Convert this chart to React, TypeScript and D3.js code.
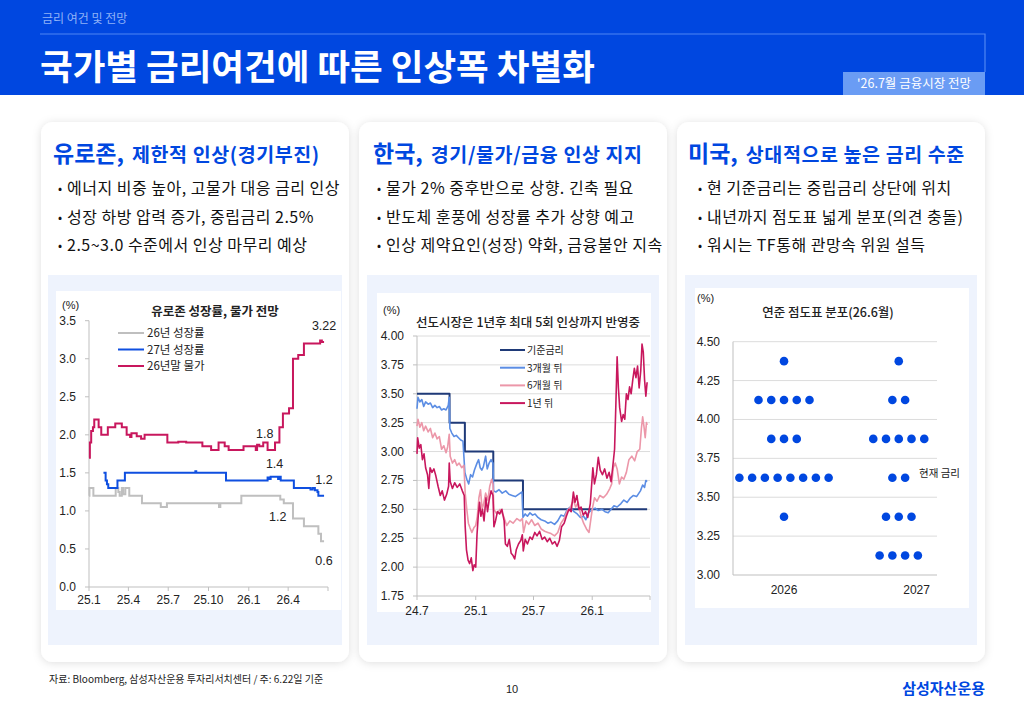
import React from "react";
import * as d3 from "d3";

const KR = "'Noto Sans CJK KR', 'Noto Sans', sans-serif";
const NUM = "'Liberation Sans', Arial, sans-serif";
const BLUE = "#0047E0";

// ---- slide texts ----
const sectionLabel = "금리 여건 및 전망";
const pageTitle = "국가별 금리여건에 따른 인상폭 차별화";
const reportTag = "'26.7월 금융시장 전망";
const cardHeads = ["유로존,", "한국,", "미국,"];
const cardSubs = [" 제한적 인상(경기부진)", " 경기/물가/금융 인상 지지", " 상대적으로 높은 금리 수준"];
const cardBullets = [
  ["에너지 비중 높아, 고물가 대응 금리 인상", "성장 하방 압력 증가, 중립금리 2.5%", "2.5~3.0 수준에서 인상 마무리 예상"],
  ["물가 2% 중후반으로 상향. 긴축 필요", "반도체 훈풍에 성장률 추가 상향 예고", "인상 제약요인(성장) 약화, 금융불안 지속"],
  ["현 기준금리는 중립금리 상단에 위치", "내년까지 점도표 넓게 분포(의견 충돌)", "워시는 TF통해 관망속 위원 설득"],
];
const sourceNote = "자료: Bloomberg, 삼성자산운용 투자리서치센터 / 주: 6.22일 기준";
const pageNo = "10";
const brand = "삼성자산운용";

// ---- chart 1: euro area growth / inflation forecasts ----
const ezTitle = "유로존 성장률, 물가 전망";
const ezTickDates = ["2025-01-01", "2025-04-01", "2025-07-01", "2025-10-01", "2026-01-01", "2026-04-01", "2026-07-01"];
const ezTickLabels = ["25.1", "25.4", "25.7", "25.10", "26.1", "26.4", ""];
const ezYTicks = [0, 0.5, 1, 1.5, 2, 2.5, 3, 3.5];
const ezNames = ["26년 성장률", "27년 성장률", "26년말 물가"];
const ezGrowth26: [string, number][] = [
  ["2025-01-01", 1.2], ["2025-01-02", 1.3], ["2025-01-11", 1.2], ["2025-03-03", 1.3], ["2025-03-09", 1.25],
  ["2025-03-12", 1.2], ["2025-03-17", 1.3], ["2025-03-20", 1.22], ["2025-03-25", 1.3], ["2025-04-03", 1.2],
  ["2025-05-02", 1.1], ["2025-06-14", 1.05], ["2025-06-28", 1.1], ["2025-10-25", 1.05], ["2025-10-28", 1.1],
  ["2025-12-15", 1.2], ["2026-03-14", 1.15], ["2026-03-22", 1.1], ["2026-04-12", 0.9], ["2026-05-07", 0.8],
  ["2026-06-09", 0.7], ["2026-06-15", 0.6], ["2026-06-22", 0.6],
];
const ezGrowth27: [string, number][] = [
  ["2025-02-03", 1.5], ["2025-02-08", 1.4], ["2025-02-11", 1.35], ["2025-02-14", 1.3], ["2025-03-07", 1.4],
  ["2025-03-24", 1.5], ["2025-09-01", 1.52], ["2025-09-03", 1.5], ["2025-11-10", 1.4], ["2026-02-13", 1.44],
  ["2026-02-16", 1.42], ["2026-02-20", 1.45], ["2026-03-09", 1.42], ["2026-03-12", 1.45], ["2026-03-15", 1.4],
  ["2026-04-14", 1.3], ["2026-05-22", 1.28], ["2026-05-27", 1.3], ["2026-06-01", 1.27], ["2026-06-07", 1.25],
  ["2026-06-09", 1.2], ["2026-06-22", 1.2],
];
const ezCpi26: [string, number][] = [
  ["2025-01-01", 1.7], ["2025-01-03", 1.9], ["2025-01-06", 2.05], ["2025-01-10", 2.1], ["2025-01-13", 2.2],
  ["2025-01-23", 2.1], ["2025-01-29", 2.0], ["2025-02-13", 2.1], ["2025-03-02", 2.15], ["2025-03-17", 2.1],
  ["2025-03-28", 2.0], ["2025-04-05", 1.97], ["2025-04-08", 2.02], ["2025-04-20", 1.98], ["2025-04-30", 1.95],
  ["2025-05-08", 2.0], ["2025-06-29", 1.9], ["2025-07-24", 1.91], ["2025-08-11", 1.9], ["2025-09-17", 1.85],
  ["2025-10-07", 1.8], ["2025-10-24", 1.9], ["2025-11-07", 1.85], ["2025-11-16", 1.8], ["2025-12-20", 1.85],
  ["2026-01-17", 1.8], ["2026-01-20", 1.87], ["2026-01-25", 1.85], ["2026-02-03", 1.9], ["2026-02-13", 1.8],
  ["2026-03-02", 1.9], ["2026-03-12", 2.1], ["2026-03-20", 2.28], ["2026-04-03", 2.35], ["2026-04-12", 3.0],
  ["2026-04-24", 3.05], ["2026-05-07", 3.2], ["2026-06-13", 3.24], ["2026-06-17", 3.22], ["2026-06-22", 3.22],
];

// ---- chart 2: Korea policy rate and market-implied path ----
const krTitle = "선도시장은 1년후 최대 5회 인상까지 반영중";
const krTickDates = ["2024-07-01", "2025-01-01", "2025-07-01", "2026-01-01", "2026-07-01"];
const krTickLabels = ["24.7", "25.1", "25.7", "26.1", ""];
const krYTicks = [1.75, 2, 2.25, 2.5, 2.75, 3, 3.25, 3.5, 3.75, 4];
const krNames = ["기준금리", "3개월 뒤", "6개월 뒤", "1년 뒤"];
const krBase: [string, number][] = [
  ["2024-07-01", 3.5], ["2024-10-11", 3.25], ["2024-11-28", 3.0], ["2025-02-25", 2.75], ["2025-05-29", 2.5], ["2026-06-22", 2.5],
];
const kr3m: [string, number][] = [
  ["2024-07-01", 3.37], ["2024-07-04", 3.47], ["2024-07-10", 3.43], ["2024-07-16", 3.45], ["2024-07-22", 3.39],
  ["2024-07-28", 3.43], ["2024-08-05", 3.41], ["2024-08-12", 3.42], ["2024-08-19", 3.38], ["2024-08-26", 3.4],
  ["2024-09-02", 3.38], ["2024-09-09", 3.39], ["2024-09-16", 3.36], ["2024-09-23", 3.37], ["2024-09-30", 3.36],
  ["2024-10-07", 3.4], ["2024-10-10", 3.47], ["2024-10-12", 3.2], ["2024-10-18", 3.16], ["2024-10-25", 3.13],
  ["2024-11-01", 3.14], ["2024-11-08", 3.12], ["2024-11-15", 3.1], ["2024-11-22", 3.09], ["2024-11-28", 2.82],
  ["2024-12-04", 2.76], ["2024-12-10", 2.72], ["2024-12-16", 2.8], ["2024-12-22", 2.78], ["2024-12-28", 2.84],
  ["2025-01-05", 2.9], ["2025-01-10", 2.93], ["2025-01-15", 2.86], ["2025-01-20", 2.84], ["2025-01-25", 2.87],
  ["2025-02-01", 2.96], ["2025-02-06", 2.85], ["2025-02-12", 2.9], ["2025-02-18", 2.93], ["2025-02-24", 2.9],
  ["2025-02-26", 2.66], ["2025-03-05", 2.65], ["2025-03-15", 2.67], ["2025-03-25", 2.64], ["2025-04-05", 2.66],
  ["2025-04-15", 2.63], ["2025-04-25", 2.62], ["2025-05-05", 2.61], ["2025-05-15", 2.63], ["2025-05-26", 2.65],
  ["2025-05-29", 2.43], ["2025-06-05", 2.46], ["2025-06-12", 2.44], ["2025-06-20", 2.47], ["2025-06-28", 2.45],
  ["2025-07-06", 2.46], ["2025-07-15", 2.43], ["2025-07-25", 2.41], ["2025-08-05", 2.4], ["2025-08-15", 2.38],
  ["2025-08-25", 2.39], ["2025-09-05", 2.37], ["2025-09-15", 2.4], ["2025-09-25", 2.45], ["2025-10-05", 2.44],
  ["2025-10-15", 2.5], ["2025-10-25", 2.52], ["2025-11-05", 2.48], ["2025-11-15", 2.46], ["2025-11-25", 2.43],
  ["2025-12-05", 2.44], ["2025-12-12", 2.41], ["2025-12-20", 2.47], ["2026-01-01", 2.5], ["2026-01-10", 2.51],
  ["2026-01-20", 2.49], ["2026-02-01", 2.5], ["2026-02-10", 2.48], ["2026-02-20", 2.47], ["2026-03-01", 2.5],
  ["2026-03-10", 2.53], ["2026-03-20", 2.52], ["2026-04-01", 2.55], ["2026-04-10", 2.58], ["2026-04-20", 2.56],
  ["2026-05-01", 2.6], ["2026-05-10", 2.62], ["2026-05-20", 2.61], ["2026-06-01", 2.66], ["2026-06-08", 2.71],
  ["2026-06-14", 2.69], ["2026-06-18", 2.75], ["2026-06-22", 2.74],
];
const kr6m: [string, number][] = [
  ["2024-07-01", 3.22], ["2024-07-04", 3.28], ["2024-07-10", 3.21], ["2024-07-16", 3.25], ["2024-07-22", 3.18],
  ["2024-07-28", 3.22], ["2024-08-05", 3.17], ["2024-08-12", 3.2], ["2024-08-19", 3.12], ["2024-08-26", 3.16],
  ["2024-09-02", 3.11], ["2024-09-09", 3.13], ["2024-09-16", 3.02], ["2024-09-23", 3.05], ["2024-09-30", 2.99],
  ["2024-10-05", 3.04], ["2024-10-10", 3.15], ["2024-10-13", 2.96], ["2024-10-20", 2.9], ["2024-10-27", 2.93],
  ["2024-11-03", 2.88], ["2024-11-10", 2.9], ["2024-11-18", 2.86], ["2024-11-25", 2.88], ["2024-11-29", 2.64],
  ["2024-12-04", 2.5], ["2024-12-09", 2.38], ["2024-12-14", 2.34], ["2024-12-20", 2.3], ["2024-12-26", 2.34],
  ["2025-01-01", 2.36], ["2025-01-06", 2.44], ["2025-01-11", 2.6], ["2025-01-16", 2.67], ["2025-01-21", 2.5],
  ["2025-01-26", 2.55], ["2025-02-01", 2.64], ["2025-02-08", 2.58], ["2025-02-14", 2.7], ["2025-02-20", 2.76],
  ["2025-02-24", 2.72], ["2025-02-27", 2.5], ["2025-03-08", 2.46], ["2025-03-18", 2.5], ["2025-03-28", 2.45],
  ["2025-04-08", 2.36], ["2025-04-18", 2.4], ["2025-04-28", 2.38], ["2025-05-10", 2.42], ["2025-05-20", 2.4],
  ["2025-05-27", 2.42], ["2025-05-31", 2.3], ["2025-06-08", 2.4], ["2025-06-16", 2.37], ["2025-06-25", 2.41],
  ["2025-07-05", 2.36], ["2025-07-15", 2.38], ["2025-07-25", 2.33], ["2025-08-05", 2.31], ["2025-08-15", 2.3],
  ["2025-08-25", 2.29], ["2025-09-05", 2.27], ["2025-09-15", 2.3], ["2025-09-25", 2.38], ["2025-10-05", 2.42],
  ["2025-10-15", 2.49], ["2025-10-25", 2.52], ["2025-11-03", 2.58], ["2025-11-10", 2.52], ["2025-11-18", 2.56],
  ["2025-11-26", 2.45], ["2025-12-05", 2.38], ["2025-12-14", 2.33], ["2025-12-22", 2.3], ["2026-01-01", 2.5],
  ["2026-01-08", 2.6], ["2026-01-16", 2.57], ["2026-01-25", 2.62], ["2026-02-05", 2.6], ["2026-02-15", 2.63],
  ["2026-02-25", 2.68], ["2026-03-03", 2.72], ["2026-03-08", 2.86], ["2026-03-14", 2.9], ["2026-03-20", 2.85],
  ["2026-03-27", 2.72], ["2026-04-03", 2.78], ["2026-04-10", 2.76], ["2026-04-18", 2.82], ["2026-04-26", 2.93],
  ["2026-05-05", 2.96], ["2026-05-14", 2.92], ["2026-05-22", 3.0], ["2026-05-30", 3.02], ["2026-06-04", 3.2],
  ["2026-06-08", 3.3], ["2026-06-12", 3.22], ["2026-06-16", 3.12], ["2026-06-20", 3.25], ["2026-06-22", 3.23],
];
const kr1y: [string, number][] = [
  ["2024-07-01", 2.98], ["2024-07-03", 3.12], ["2024-07-08", 3.03], ["2024-07-13", 3.06], ["2024-07-18", 2.93],
  ["2024-07-23", 2.98], ["2024-07-28", 2.86], ["2024-08-03", 2.8], ["2024-08-07", 2.68], ["2024-08-11", 2.86],
  ["2024-08-17", 2.82], ["2024-08-23", 2.85], ["2024-08-29", 2.79], ["2024-09-05", 2.7], ["2024-09-12", 2.62],
  ["2024-09-18", 2.66], ["2024-09-25", 2.58], ["2024-10-02", 2.63], ["2024-10-08", 2.7], ["2024-10-10", 2.9],
  ["2024-10-13", 2.74], ["2024-10-20", 2.68], ["2024-10-27", 2.73], ["2024-11-04", 2.69], ["2024-11-12", 2.72],
  ["2024-11-20", 2.66], ["2024-11-26", 2.62], ["2024-11-29", 2.35], ["2024-12-03", 2.15], ["2024-12-08", 2.06],
  ["2024-12-13", 2.03], ["2024-12-18", 2.08], ["2024-12-23", 1.97], ["2024-12-27", 2.02], ["2025-01-01", 2.0],
  ["2025-01-05", 2.28], ["2025-01-09", 2.45], ["2025-01-13", 2.56], ["2025-01-17", 2.44], ["2025-01-22", 2.5],
  ["2025-01-27", 2.4], ["2025-02-02", 2.6], ["2025-02-07", 2.48], ["2025-02-12", 2.58], ["2025-02-18", 2.66],
  ["2025-02-24", 2.62], ["2025-02-27", 2.35], ["2025-03-04", 2.4], ["2025-03-10", 2.48], ["2025-03-17", 2.46],
  ["2025-03-24", 2.5], ["2025-03-31", 2.4], ["2025-04-04", 2.2], ["2025-04-10", 2.18], ["2025-04-16", 2.24],
  ["2025-04-22", 2.12], ["2025-04-28", 2.1], ["2025-05-03", 2.07], ["2025-05-08", 2.15], ["2025-05-15", 2.2],
  ["2025-05-22", 2.23], ["2025-05-27", 2.28], ["2025-05-30", 2.14], ["2025-06-05", 2.24], ["2025-06-12", 2.2],
  ["2025-06-20", 2.26], ["2025-06-27", 2.24], ["2025-07-05", 2.3], ["2025-07-12", 2.27], ["2025-07-20", 2.31],
  ["2025-07-28", 2.24], ["2025-08-05", 2.26], ["2025-08-13", 2.22], ["2025-08-21", 2.25], ["2025-08-29", 2.2],
  ["2025-09-06", 2.22], ["2025-09-13", 2.18], ["2025-09-20", 2.23], ["2025-09-27", 2.35], ["2025-10-05", 2.38],
  ["2025-10-12", 2.44], ["2025-10-20", 2.5], ["2025-10-27", 2.48], ["2025-11-03", 2.65], ["2025-11-08", 2.56],
  ["2025-11-14", 2.62], ["2025-11-20", 2.5], ["2025-11-27", 2.52], ["2025-12-04", 2.45], ["2025-12-11", 2.48],
  ["2025-12-18", 2.43], ["2025-12-26", 2.55], ["2026-01-03", 2.86], ["2026-01-08", 2.72], ["2026-01-14", 2.8],
  ["2026-01-20", 2.95], ["2026-01-26", 2.84], ["2026-02-02", 2.8], ["2026-02-09", 2.85], ["2026-02-16", 2.77],
  ["2026-02-23", 2.82], ["2026-03-01", 2.74], ["2026-03-06", 2.86], ["2026-03-12", 3.02], ["2026-03-16", 3.4],
  ["2026-03-20", 3.82], ["2026-03-24", 3.55], ["2026-03-28", 3.38], ["2026-04-03", 3.26], ["2026-04-08", 3.32],
  ["2026-04-13", 3.28], ["2026-04-18", 3.5], ["2026-04-23", 3.45], ["2026-04-28", 3.56], ["2026-05-03", 3.5],
  ["2026-05-08", 3.62], ["2026-05-13", 3.72], ["2026-05-18", 3.64], ["2026-05-23", 3.74], ["2026-05-28", 3.55],
  ["2026-06-02", 3.7], ["2026-06-06", 3.93], ["2026-06-10", 3.86], ["2026-06-14", 3.62], ["2026-06-18", 3.48],
  ["2026-06-22", 3.6],
];

// ---- chart 3: FOMC dot plot ----
const dotTitle = "연준 점도표 분포(26.6월)";
const dotYears = ["2026", "2027"];
const dotLevels = [4.375, 4.125, 3.875, 3.625, 3.375, 3.125];
const dots2026 = [1, 5, 3, 8, 1, 0];
const dots2027 = [1, 2, 5, 2, 3, 4];
const dotYTicks = [3, 3.25, 3.5, 3.75, 4, 4.25, 4.5];
const currentRateLabel = "현재 금리";
const currentRate = 3.625;

const parse = d3.timeParse("%Y-%m-%d");
const dt = (s: string) => parse(s) as Date;

function EuroChart() {
  const x = d3.scaleTime().domain([dt("2025-01-01"), dt("2026-07-01")]).range([89, 328]);
  const y = d3.scaleLinear().domain([0, 3.5]).range([587, 320.7]);
  const line = d3.line<[string, number]>().x((d) => x(dt(d[0]))).y((d) => y(d[1])).curve(d3.curveStepAfter);
  const series = [
    { d: ezGrowth26, c: "#BFBFBF" },
    { d: ezGrowth27, c: "#0F4FE0" },
    { d: ezCpi26, c: "#C8175D" },
  ];
  const ax = "#BFBFBF";
  const last = (s: [string, number][]) => s[s.length - 1];
  const ann = [
    { t: "3.22", dx: 0, dy: -12, p: last(ezCpi26) },
    { t: "1.8", dx: -6, dy: -12, p: ["2026-02-20", 1.8] as [string, number] },
    { t: "1.4", dx: 0, dy: -9, p: ["2026-03-01", 1.45] as [string, number] },
    { t: "1.2", dx: 0, dy: -12, p: last(ezGrowth27) },
    { t: "1.2", dx: 0, dy: 18, p: ["2026-03-08", 1.1] as [string, number] },
    { t: "0.6", dx: 0, dy: 24, p: last(ezGrowth26) },
  ];
  return (
    <g>
      <text x={62} y={309} fontSize={11} fontFamily={NUM} fill="#222">(%)</text>
      <text x={215} y={316} textAnchor="middle" fontSize={12.5} fontWeight={700} fontFamily={KR} fill="#222">{ezTitle}</text>
      <line x1={89} x2={89} y1={y(3.5)} y2={y(0)} stroke={ax} />
      <line x1={89} x2={328} y1={y(0)} y2={y(0)} stroke={ax} />
      {ezYTicks.map((t) => (
        <g key={t}>
          <line x1={85} x2={89} y1={y(t)} y2={y(t)} stroke={ax} />
          <text x={76} y={y(t) + 4} textAnchor="end" fontSize={12} fontFamily={NUM} fill="#222">{d3.format(".1f")(t)}</text>
        </g>
      ))}
      {ezTickDates.map((s, i) => (
        <g key={s}>
          <line x1={x(dt(s))} x2={x(dt(s))} y1={y(0)} y2={y(0) + 4} stroke={ax} />
          <text x={x(dt(s))} y={604} textAnchor="middle" fontSize={12} fontFamily={NUM} fill="#222">{ezTickLabels[i]}</text>
        </g>
      ))}
      {series.map((s, i) => (
        <path key={i} d={line(s.d) || ""} fill="none" stroke={s.c} strokeWidth={2} />
      ))}
      {ezNames.map((n, i) => (
        <g key={n}>
          <line x1={118} x2={144} y1={333 + i * 16.5} y2={333 + i * 16.5} stroke={series[i].c} strokeWidth={2} />
          <text x={147} y={337 + i * 16.5} fontSize={11.5} fontFamily={KR} fill="#222">{n}</text>
        </g>
      ))}
      {ann.map((a, i) => (
        <text key={i} x={x(dt(a.p[0])) + a.dx} y={y(a.p[1]) + a.dy} textAnchor="middle" fontSize={12.5} fontFamily={NUM} fill="#222">{a.t}</text>
      ))}
    </g>
  );
}

function KoreaChart() {
  const x = d3.scaleTime().domain([dt("2024-07-01"), dt("2026-07-01")]).range([417, 650]);
  const y = d3.scaleLinear().domain([1.75, 4]).range([596, 336]);
  const line = d3.line<[string, number]>().x((d) => x(dt(d[0]))).y((d) => y(d[1]));
  const series = [
    { d: krBase, c: "#1F3A78", w: 2, step: true },
    { d: kr3m, c: "#5B8DE4", w: 1.6, step: false },
    { d: kr6m, c: "#EC97A9", w: 1.6, step: false },
    { d: kr1y, c: "#C8175D", w: 1.6, step: false },
  ];
  const ax = "#BFBFBF";
  return (
    <g>
      <text x={383} y={314} fontSize={11} fontFamily={NUM} fill="#222">(%)</text>
      <text x={528} y={327} textAnchor="middle" fontSize={12.5} fontWeight={500} fontFamily={KR} fill="#222">{krTitle}</text>
      {krYTicks.map((t) => (
        <g key={t}>
          {t > 1.75 && <line x1={417} x2={650} y1={y(t)} y2={y(t)} stroke="#DCDCDC" />}
          <line x1={413} x2={417} y1={y(t)} y2={y(t)} stroke={ax} />
          <text x={404} y={y(t) + 4} textAnchor="end" fontSize={12} fontFamily={NUM} fill="#222">{d3.format(".2f")(t)}</text>
        </g>
      ))}
      <line x1={417} x2={417} y1={y(4)} y2={y(1.75)} stroke={ax} />
      <line x1={417} x2={650} y1={y(1.75)} y2={y(1.75)} stroke={ax} />
      {krTickDates.map((s, i) => (
        <g key={s}>
          <line x1={x(dt(s))} x2={x(dt(s))} y1={y(1.75)} y2={y(1.75) + 4} stroke={ax} />
          <text x={x(dt(s))} y={615} textAnchor="middle" fontSize={12} fontFamily={NUM} fill="#222">{krTickLabels[i]}</text>
        </g>
      ))}
      {series.map((s, i) => (
        <path key={i} d={(s.step ? line.curve(d3.curveStepAfter) : line.curve(d3.curveLinear))(s.d) || ""} fill="none" stroke={s.c} strokeWidth={s.w} strokeLinejoin="round" />
      ))}
      {krNames.map((n, i) => (
        <g key={n}>
          <line x1={500} x2={525} y1={350 + i * 17.7} y2={350 + i * 17.7} stroke={series[i].c} strokeWidth={2} />
          <text x={527} y={354 + i * 17.7} fontSize={10} fontFamily={KR} fill="#222">{n}</text>
        </g>
      ))}
    </g>
  );
}

function DotChart() {
  const y = d3.scaleLinear().domain([3, 4.5]).range([575, 341.7]);
  const x = d3.scaleLinear().domain([0, 16]).range([733, 937]);
  const centers = [4, 13];
  const labelPos = [4, 14.4];
  const counts = [dots2026, dots2027];
  const dots: { cx: number; cy: number }[] = [];
  counts.forEach((cnt, yi) => {
    cnt.forEach((n, li) => {
      for (let k = 0; k < n; k++) {
        dots.push({ cx: x(centers[yi] + k - (n - 1) / 2), cy: y(dotLevels[li]) });
      }
    });
  });
  const ax = "#BFBFBF";
  return (
    <g>
      <text x={697} y={302} fontSize={11} fontFamily={NUM} fill="#222">(%)</text>
      <text x={828} y={317} textAnchor="middle" fontSize={12.5} fontWeight={500} fontFamily={KR} fill="#222">{dotTitle}</text>
      {dotYTicks.map((t) => (
        <g key={t}>
          {t > 3 && <line x1={733} x2={937} y1={y(t)} y2={y(t)} stroke="#DCDCDC" />}
          <text x={720} y={y(t) + 4} textAnchor="end" fontSize={12} fontFamily={NUM} fill="#222">{d3.format(".2f")(t)}</text>
        </g>
      ))}
      <line x1={733} x2={733} y1={y(4.5)} y2={y(3)} stroke={ax} />
      <line x1={733} x2={937} y1={y(3)} y2={y(3)} stroke={ax} />
      {dotYears.map((yr, i) => (
        <text key={yr} x={x(labelPos[i])} y={594} textAnchor="middle" fontSize={12} fontFamily={NUM} fill="#222">{yr}</text>
      ))}
      {dots.map((d, i) => (
        <circle key={i} cx={d.cx} cy={d.cy} r={4.3} fill={BLUE} />
      ))}
      <text x={919} y={y(currentRate) - 1} fontSize={10.5} fontFamily={KR} fill="#222">{currentRateLabel}</text>
    </g>
  );
}

export default function App() {
  const cardX = [41, 359, 677];
  const cardW = 308;
  const headX = [53, 373, 688];
  const bulletX = [58, 377, 698];
  const panel = [
    { ox: 48, ow: 294, ix: 56, iw: 285, iy: 291, ih: 319 },
    { ox: 367, ow: 292, ix: 377, iw: 274, iy: 293, ih: 319 },
    { ox: 685, ow: 292, ix: 695, iw: 274, iy: 288, ih: 320 },
  ];
  return (
    <div style={{ position: "absolute", left: 0, top: 0 }}>
      <svg width={1024} height={709} style={{ display: "block" }}>
        <defs>
          <filter id="sh" x="-10%" y="-10%" width="120%" height="120%">
            <feDropShadow dx="0" dy="1" stdDeviation="4" floodColor="#000" floodOpacity="0.13" />
          </filter>
        </defs>
        <rect width={1024} height={709} fill="#FFFFFF" />
        <rect width={1024} height={95} fill={BLUE} />
        <text x={42} y={23} fontSize={12} fontFamily={KR} fill="#8FB2F7">{sectionLabel}</text>
        <polyline points="40,34 985,34 985,72" fill="none" stroke="#4F86F2" strokeWidth={1.2} />
        <text x={40} y={80} fontSize={35.5} fontWeight={700} fontFamily={KR} fill="#FFFFFF">{pageTitle}</text>
        <rect x={843} y={72} width={142} height={23} fill="#6A9CF4" />
        <text x={914} y={88} textAnchor="middle" fontSize={12.5} fontFamily={KR} fill="#FFFFFF">{reportTag}</text>

        {cardX.map((cx, i) => (
          <g key={i}>
            <rect x={cx} y={122} width={cardW} height={540} rx={12} fill="#FFFFFF" filter="url(#sh)" />
            <text x={headX[i]} y={162} fill={BLUE} fontFamily={KR} fontWeight={700} style={{ whiteSpace: "pre" }}>
              <tspan fontSize={23}>{cardHeads[i]}</tspan>
              <tspan fontSize={19.5} dx={3} letterSpacing={0.6}>{cardSubs[i]}</tspan>
            </text>
            {cardBullets[i].map((b, j) => (
              <g key={j}>
                <text x={bulletX[i]} y={193 + j * 28.5} fontSize={12} fontFamily={KR} fill="#111">•</text>
                <text x={bulletX[i] + 9} y={194 + j * 28.5} fontSize={16} letterSpacing={0.5} fontFamily={KR} fill="#111">{b}</text>
              </g>
            ))}
            <rect x={panel[i].ox} y={275} width={panel[i].ow} height={370} fill="#EEF3FD" />
            <rect x={panel[i].ix} y={panel[i].iy} width={panel[i].iw} height={panel[i].ih} fill="#FFFFFF" />
          </g>
        ))}

        <EuroChart />
        <KoreaChart />
        <DotChart />

        <text x={49} y={683} fontSize={10} fontFamily={KR} fill="#222">{sourceNote}</text>
        <text x={512} y={693} textAnchor="middle" fontSize={11} fontFamily={NUM} fill="#222">{pageNo}</text>
        <text x={985} y={694} textAnchor="end" fontSize={15} fontWeight={700} fontFamily={KR} fill={BLUE}>{brand}</text>
      </svg>
    </div>
  );
}
